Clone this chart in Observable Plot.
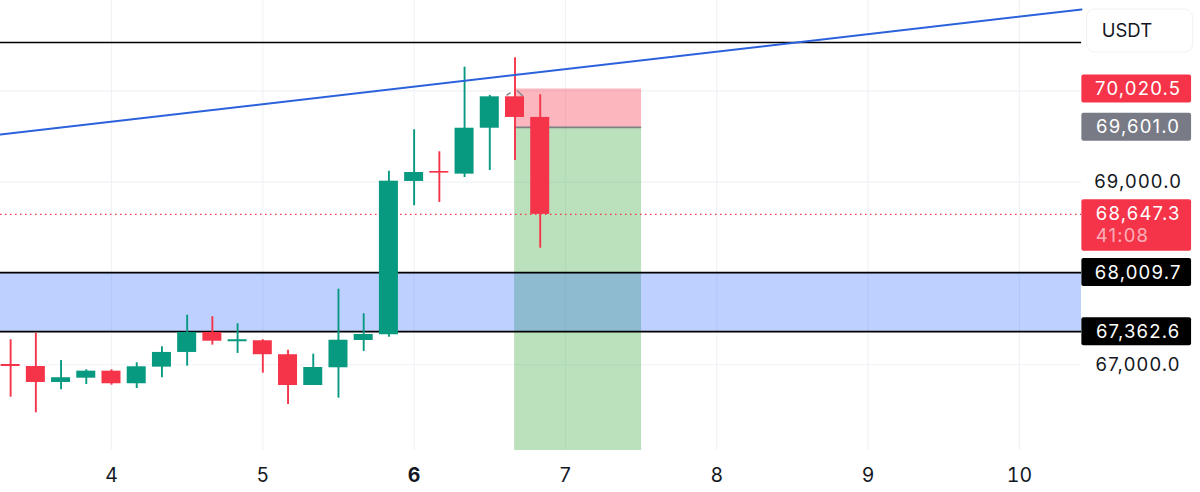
<!DOCTYPE html>
<html>
<head>
<meta charset="utf-8">
<style>html,body{margin:0;padding:0;background:#fff;overflow:hidden}svg{display:block}</style>
<script src="https://cdn.jsdelivr.net/npm/d3@7"></script>
<script src="https://cdn.jsdelivr.net/npm/@observablehq/plot@0.6"></script>
</head>
<body>
<div id="chart"></div>
<script>
// Candles, 4-hour spacing; the first one sits four steps before day 4
const opens  = [67003,66981,66806,66853,66930,66792,66974,67135,67354,67252,67263,67110,66773,66967,67266,67329,69008,69117,69088,69591,69935,69709];
const closes = [66981,66806,66858,66930,66792,66978,67135,67354,67258,67274,67110,66773,66970,67269,67332,69011,69106,69099,69591,69935,69709,68647.3];
const highs  = [67274,67346,67047,66945,66945,67022,67197,67543,67526,67449,67274,67160,67116,67828,67559,69120,69574,69333,70260,69950,70363,69957];
const lows   = [66645,66474,66726,66784,66777,66740,66858,66985,67215,67124,66908,66565,66773,66634,67146,67302,68742,68778,69051,69128,69238,68277];

const dayTicks = [4,5,6,7,8,9,10];
const priceGrid = [70000,69000,68000,67000];
const priceAxisLabels = [69000,67000];
const zoneTop = 68009.7, zoneBottom = 67362.6;
const resistance = 70530;
const trendDays = [3.2664,10.411], trendPrices = [69522,70892];
const stopPrice = 70020.5, entryPrice = 69601.0, lastPrice = 68647.3;
const positionStart = 6.664, positionEnd = 7.503;
const countdown = "41:08";

const dayMin = 3.2664, paneEnd = 10.411, dayMax = 11.197;
const priceMin = 66061, priceMax = 70990;
const tagStart = 10.413, tagEnd = 11.138, tagCenter = 10.785, tagLeft = 10.504;

const candles = opens.map((o,i)=>({
  x: 4 + (i-4)/6, open:o, close:closes[i], high:highs[i], low:lows[i],
  up: closes[i] >= o
}));
const halfBody = 0.0628;
const GREEN = "#089981", RED = "#f5344a";
const FONT = "Inter, 'Liberation Sans', sans-serif";

const tags = [
  {p:stopPrice,  top:stopPrice+153,  bottom:stopPrice-153,  fill:"#f5344a"},
  {p:entryPrice, top:entryPrice+153, bottom:entryPrice-153, fill:"#787b86"},
  {p:zoneTop,    top:zoneTop+153,    bottom:zoneTop-153,    fill:"#000"},
  {p:zoneBottom, top:zoneBottom+153, bottom:zoneBottom-153, fill:"#000"}
];
const fmt = d3.format(",.1f");
const chevrons = [
  {x1:6.611,y1:69950,x2:6.637,y2:69982},
  {x1:6.681,y1:70004,x2:6.721,y2:69939}
];

const plot = Plot.plot({
  width:1200, height:492,
  marginLeft:0, marginRight:0, marginTop:0, marginBottom:42,
  style:{background:"#fff", fontFamily:FONT, overflow:"hidden"},
  x:{domain:[dayMin,dayMax], range:[0,1200], axis:null},
  y:{domain:[priceMin,priceMax], axis:null},
  marks:[
    // grid
    Plot.ruleX(dayTicks,{x:d=>d,y1:priceMin,y2:priceMax,stroke:"#f0f2f6",strokeWidth:1.2}),
    Plot.ruleY(priceGrid,{y:d=>d,x1:dayMin,x2:paneEnd,stroke:"#f0f2f6",strokeWidth:1.2}),
    // position tool
    Plot.rect([0],{x1:positionStart,x2:positionEnd,y1:priceMin,y2:entryPrice,fill:"#4caf50",fillOpacity:0.38}),
    Plot.rect([0],{x1:positionStart,x2:positionEnd,y1:entryPrice,y2:stopPrice,fill:"#f5344a",fillOpacity:0.36}),
    // demand zone
    Plot.rect([0],{x1:dayMin,x2:paneEnd,y1:zoneBottom,y2:zoneTop,fill:"#2962ff",fillOpacity:0.3}),
    Plot.ruleY([zoneTop,zoneBottom,resistance],{y:d=>d,x1:dayMin,x2:paneEnd,stroke:"#000",strokeWidth:1.7}),
    Plot.ruleY([entryPrice],{y:d=>d,x1:positionStart,x2:positionEnd,stroke:"#7f7f85",strokeWidth:1.7}),
    Plot.link(chevrons,{x1:"x1",y1:"y1",x2:"x2",y2:"y2",stroke:"#85858b",strokeWidth:1.5}),
    // last price
    Plot.ruleY([lastPrice],{y:d=>d,x1:dayMin,x2:paneEnd,stroke:"#f5344a",strokeWidth:1.2,strokeDasharray:"1.5,3.5"}),
    // candles
    Plot.ruleX(candles,{x:"x",y1:"low",y2:"high",stroke:d=>d.up?GREEN:RED,strokeWidth:1.9}),
    Plot.rect(candles,{x1:d=>d.x-halfBody,x2:d=>d.x+halfBody,y1:"open",y2:"close",fill:d=>d.up?GREEN:RED}),
    // trend line
    Plot.line(trendDays.map((d,i)=>({d,p:trendPrices[i]})),{x:"d",y:"p",stroke:"#2b62dc",strokeWidth:1.9}),
    // time axis
    Plot.axisX(dayTicks.filter(d=>d!==6),{tickSize:0,tickPadding:18,fontSize:19.5,fill:"#131722",tickFormat:d=>d,label:null}),
    Plot.axisX([6],{tickSize:0,tickPadding:18,fontSize:19.5,fontWeight:700,fill:"#131722",tickFormat:d=>d,label:null}),
    // price scale
    Plot.rect([0],{x1:10.447,x2:11.148,y1:70420,y2:70890,fill:"#fff",stroke:"#f1f2f5",strokeWidth:1,r:8}),
    Plot.text(["USDT"],{x:10.544,y:70655,text:d=>d,textAnchor:"start",fontSize:18.5,fill:"#131722"}),
    Plot.rect(tags,{x1:tagStart,x2:tagEnd,y1:"bottom",y2:"top",fill:"fill",r:2}),
    Plot.rect([0],{x1:tagStart,x2:tagEnd,y1:lastPrice-405,y2:lastPrice+160,fill:"#f5344a",r:2}),
    Plot.text(priceAxisLabels,{x:tagCenter,y:d=>d,text:fmt,fontSize:18.5,fill:"#131722"}),
    Plot.text(tags,{x:tagCenter,y:"p",text:d=>fmt(d.p),fontSize:18.5,fill:"#fff"}),
    Plot.text([lastPrice],{x:tagCenter,y:d=>d,text:fmt,fontSize:18.5,fill:"#fff"}),
    Plot.text([countdown],{x:tagLeft,y:lastPrice,dy:22,text:d=>d,textAnchor:"start",fontSize:18.5,fill:"#fff",fillOpacity:0.62})
  ]
});
d3.select(plot).selectAll("text").filter(function(){return /[,:]/.test(this.textContent);}).style("letter-spacing","1.2px");
document.getElementById("chart").appendChild(plot);
</script>
</body>
</html>
